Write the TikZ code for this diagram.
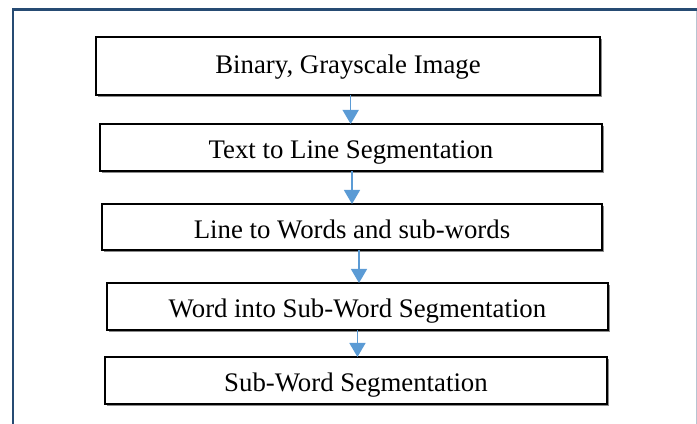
\documentclass[tikz,border=0pt]{standalone}
\usepackage{fontspec}
\setmainfont{Liberation Serif}
\usetikzlibrary{positioning,arrows.meta,shadows}
\definecolor{frameblue}{HTML}{264B73}
\definecolor{framegray}{HTML}{B7C4D1}
\definecolor{flowblue}{HTML}{5B9BD5}
\tikzset{
  stage/.style={draw=black, line width=1.3pt, fill=white, inner sep=0pt, outer sep=0pt,
    minimum width=376.5pt, minimum height=35.25pt, text depth=0pt, text height=17.25pt,
    font=\fontsize{20.1}{24}\selectfont,
    drop shadow={shadow xshift=1.2pt, shadow yshift=-1.2pt, fill=black!45, opacity=1}},
  flow/.style={draw=flowblue, line width=1.1pt, -{Triangle[length=10.5pt,width=12pt]}}
}
\begin{document}
\begin{tikzpicture}[x=0.75pt,y=-0.75pt]
                  \useasboundingbox (0,0) rectangle (697,424);
                  \draw[framegray, line width=0.9pt] (696.4,9) -- (696.4,424);
                  \draw[frameblue, line width=1.9pt] (12.8,424) -- (12.8,9.3) -- (697,9.3);
                  \node[stage, minimum width=378pt, minimum height=43.5pt, text height=12pt] (1) at (348,66) {Binary, Grayscale Image};
                  \node[stage] (2) [below=21.75pt of 1, xshift=2.25pt] {Text to Line Segmentation};
                  \node[stage, minimum width=375pt, minimum height=34.5pt] (3) [below=24.75pt of 2, xshift=0.75pt] {Line to Words and sub-words};
                  \node[stage, minimum width=375.75pt] (4) [below=24.75pt of 3, xshift=4.1pt] {Word into Sub-Word Segmentation};
                  \node[stage] (5) [below=20.25pt of 4, xshift=-1.1pt] {Sub-Word Segmentation};
                  \path
                  ([xshift=2pt]1.south) edge[flow] ([xshift=2pt]1.south |- 2.north)
                  ([xshift=0.75pt]2.south) edge[flow] ([xshift=0.75pt]2.south |- 3.north)
                  ([xshift=5.25pt]3.south) edge[flow] ([xshift=5.25pt]3.south |- 4.north)
                  (4.south) edge[flow] (4.south |- 5.north);
              \end{tikzpicture}
\end{document}
